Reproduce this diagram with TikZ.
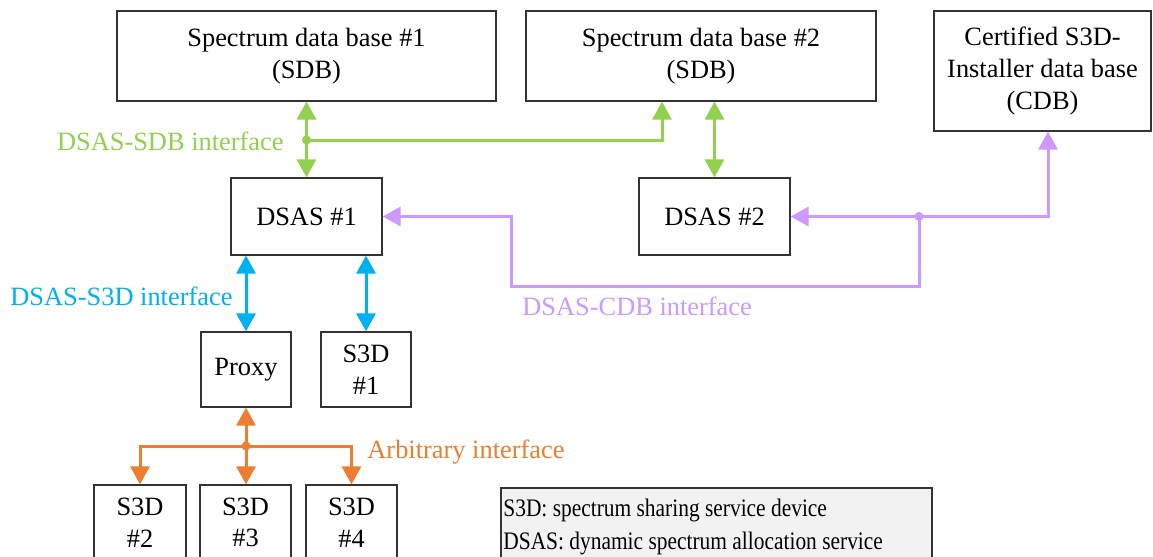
\documentclass[tikz,border=0pt]{standalone}
\usepackage{fontspec}
\setmainfont{Liberation Serif}
\newfontfamily\legendfont[FakeStretch=0.85]{Liberation Serif}
\usetikzlibrary{arrows.meta}
\definecolor{sdbgreen}{HTML}{92D050}
\definecolor{s3dblue}{HTML}{00B0F0}
\definecolor{cdbviolet}{HTML}{CC99FF}
\definecolor{arborange}{HTML}{ED7D31}
\definecolor{legendgray}{HTML}{F2F2F2}
\tikzset{
    block/.style={rectangle,draw=black!80,line width=0.6pt,align=center,inner sep=0pt},
    link/.style={line width=1.5pt,> = {Triangle[length=9pt,width=9.5pt]}},
    junc/.style={circle,fill,inner sep=0pt,minimum size=4.5pt},
    tag/.style={inner sep=0pt}
}

\begin{document}
\begin{tikzpicture}[x=0.5pt,y=-0.5pt,font=\fontsize{13.2}{15.8}\selectfont]
\useasboundingbox (0,0) rectangle (1153,557);

\node[block,minimum width=189.5pt,minimum height=45pt] (sdb1) at (306.5,56) {Spectrum data base \#1\\(SDB)};
\node[block,minimum width=175pt,minimum height=45pt] (sdb2) at (701,56) {Spectrum data base \#2\\(SDB)};
\node[block,minimum width=108.5pt,minimum height=60pt] (cdb) at (1042.5,71) {Certified S3D-\\Installer data base\\(CDB)};
\node[block,minimum width=75.5pt,minimum height=38.5pt] (dsas1) at (306.5,216.5) {DSAS \#1};
\node[block,minimum width=75.5pt,minimum height=38.5pt] (dsas2) at (714.5,216.5) {DSAS \#2};
\node[block,minimum width=45pt,minimum height=37.5pt] (proxy) at (246,369.5) {Proxy};
\node[block,minimum width=45pt,minimum height=37.5pt] (s3d1) at (366,369.5) {S3D\\\#1};
\node[block,minimum width=46pt,minimum height=37.5pt] (s3d2) at (140,522.5) {S3D\\\#2};
\node[block,minimum width=45.5pt,minimum height=37.5pt] (s3d3) at (245.5,522.5) {S3D\\\#3};
\node[block,minimum width=45.5pt,minimum height=37.5pt] (s3d4) at (351.5,522.5) {S3D\\\#4};
\node[block,fill=legendgray,minimum width=215.5pt,minimum height=37.5pt] (legend) at (716.5,525.5) {};
\node[tag,anchor=north west,align=left,font=\legendfont\fontsize{12.6}{16.5}\selectfont] (legendtext) at (503,499) {S3D: spectrum sharing service device\\DSAS: dynamic spectrum allocation service};

% DSAS-SDB
\coordinate (gj) at (306.5,140);
\draw[link,sdbgreen,<->] (sdb1) -- (dsas1);
\draw[link,sdbgreen,->] (gj) -| ([xshift=-19.5pt]sdb2.south);
\draw[link,sdbgreen,<->] (dsas2.north |- sdb2.south) -- (dsas2.north);
\node[junc,sdbgreen] at (gj) {};
\node[tag,sdbgreen,anchor=east] (sdbtag) at (284,141) {DSAS-SDB interface};

% DSAS-CDB
\coordinate (pj) at (919,216.5);
\draw[link,cdbviolet,->] (pj) -| ([xshift=2.75pt]cdb.south);
\draw[link,cdbviolet,->] (pj) -- (dsas2.east);
\draw[link,cdbviolet,->] (pj) -- (pj |- 0,286) -| (511,216.5) -- (dsas1.east);
\node[junc,cdbviolet] at (pj) {};
\node[tag,cdbviolet,anchor=west] (cdbtag) at (522,306) {DSAS-CDB interface};

% DSAS-S3D
\draw[link,s3dblue,<->] (dsas1.south -| proxy) -- (proxy.north);
\draw[link,s3dblue,<->] (dsas1.south -| s3d1) -- (s3d1.north);
\node[tag,s3dblue,anchor=west] (s3dtag) at (10,296) {DSAS-S3D interface};

% arbitrary
\coordinate (oj) at (246,446);
\draw[link,arborange,->] (oj) -- (proxy.south);
\draw[link,arborange,->] (oj) -| (s3d2.north);
\draw[link,arborange,->] (oj) -- (oj |- s3d3.north);
\draw[link,arborange,->] (oj) -| (s3d4.north);
\node[junc,arborange] at (oj) {};
\node[tag,arborange,anchor=west] (arbtag) at (367,452) {Arbitrary interface};

\end{tikzpicture}
\end{document}
